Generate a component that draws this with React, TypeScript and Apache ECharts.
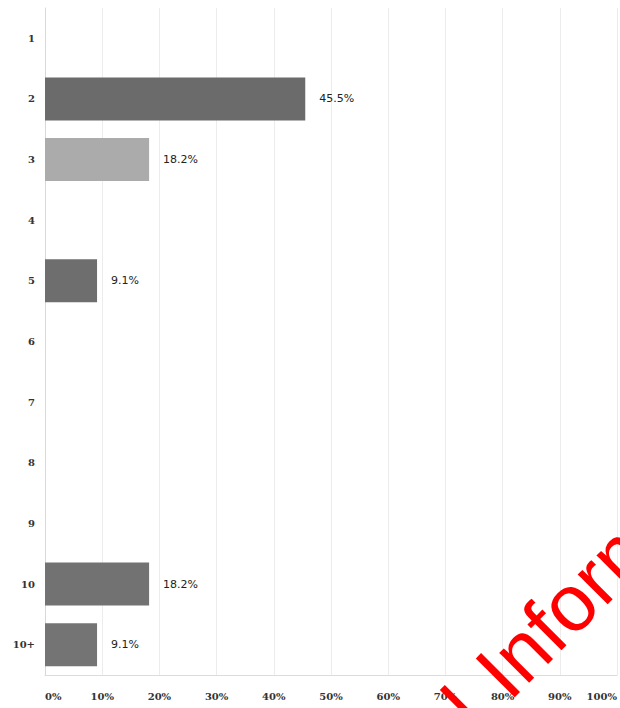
import React, { useEffect, useRef } from "react";
import * as echarts from "echarts";

const categories = ["1", "2", "3", "4", "5", "6", "7", "8", "9", "10", "10+"];
const values = [0, 45.5, 18.2, 0, 9.1, 0, 0, 0, 0, 18.2, 9.1];
const barColors = ["#6d6d6d", "#6b6b6b", "#ababab", "#6d6d6d", "#6e6e6e", "#6d6d6d", "#6d6d6d", "#6d6d6d", "#6d6d6d", "#727272", "#747474"];
const xTicks = [0, 10, 20, 30, 40, 50, 60, 70, 80, 90, 100];

export default function App() {
  const ref = useRef<HTMLDivElement>(null);
  useEffect(() => {
    document.body.style.margin = "0";
    if (!ref.current) return;
    const chart = echarts.init(ref.current, undefined, { renderer: "svg" });
    const deg = Math.PI / 4;
    const ux = Math.cos(deg);
    const uy = -Math.sin(deg);
    const ax = 490;
    const ay = 683;
    chart.setOption({
      animation: false,
      backgroundColor: "#ffffff",
      grid: { left: 45, right: 0, top: 8, bottom: 33, containLabel: false },
      xAxis: {
        type: "value",
        min: xTicks[0],
        max: xTicks[xTicks.length - 1],
        interval: 10,
        axisLine: { show: true, lineStyle: { color: "#dcdcdc", width: 1 } },
        axisTick: { show: false },
        splitLine: { show: true, lineStyle: { color: "#ececec", width: 1 } },
        axisLabel: {
          formatter: "{value}%",
          color: "#333",
          fontSize: 10,
          fontFamily: "DejaVu Serif",
          fontWeight: "bold",
          margin: 16,
          alignMinLabel: "left",
          alignMaxLabel: "right",
        },
      },
      yAxis: {
        type: "category",
        data: categories,
        inverse: true,
        axisLine: { show: true, lineStyle: { color: "#d8d8d8", width: 1 } },
        axisTick: { show: false },
        splitLine: { show: false },
        axisLabel: {
          color: "#333",
          fontSize: 10,
          fontFamily: "DejaVu Serif",
          fontWeight: "bold",
          margin: 10,
        },
      },
      series: [
        {
          type: "bar",
          barWidth: 43,
          data: values.map((v, i) => ({
            value: v,
            itemStyle: { color: barColors[i] },
          })),
          label: {
            show: true,
            position: "right",
            distance: 14,
            color: "#222",
            fontSize: 11,
            fontFamily: "DejaVu Sans",
            formatter: (p: any) => (p.value > 0 ? p.value.toFixed(1) + "%" : ""),
          },
        },
      ],
      graphic: [
        {
          type: "text",
          x: ax,
          y: ay,
          rotation: deg,
          z: 100,
          style: {
            text: "Information",
            fill: "#ff0000",
            font: "80px 'Liberation Sans', Arial, sans-serif",
            align: "left",
            verticalAlign: "middle",
          },
        },
        {
          type: "text",
          x: ax - 28 * ux,
          y: ay - 28 * uy,
          rotation: deg,
          z: 100,
          style: {
            text: "Confidential",
            fill: "#ff0000",
            font: "80px 'Liberation Sans', Arial, sans-serif",
            align: "right",
            verticalAlign: "middle",
          },
        },
      ],
    });
    return () => chart.dispose();
  }, []);
  return <div ref={ref} style={{ width: 620, height: 708 }} />;
}
